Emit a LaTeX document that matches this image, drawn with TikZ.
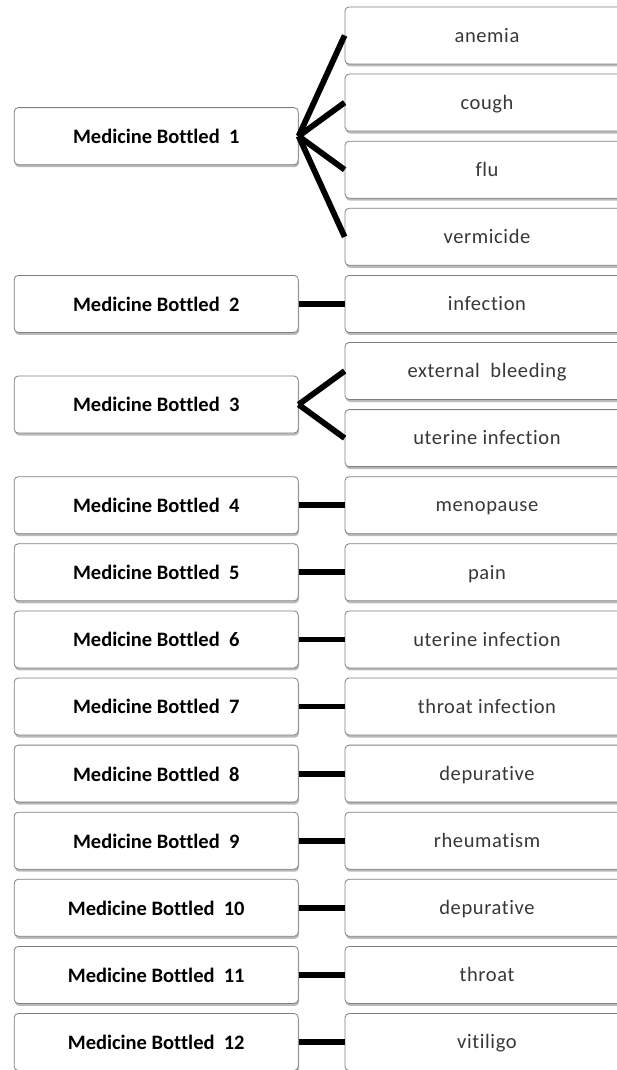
\documentclass[tikz,border=0pt]{standalone}
\usepackage{fontspec}
\setmainfont[Ligatures={NoCommon,NoContextual}]{Carlito}
\newfontfamily\symptomfont[LetterSpace=3, Ligatures={NoCommon,NoContextual}]{Carlito}
\usetikzlibrary{calc, positioning, shadows}

\begin{document}
\begin{tikzpicture}[x=1pt, y=1pt,
    box/.style={draw=black!50, line width=0.8pt, rounded corners=4pt, fill=white,
        minimum width=284pt, minimum height=57pt, inner sep=0pt,
        drop shadow={shadow xshift=0.8pt, shadow yshift=-2.5pt, fill=black!45, opacity=0.6}},
    med/.style={box, text height=18.8pt, text depth=4pt,
        font=\fontsize{20.5}{24}\selectfont\bfseries},
    use/.style={box, text=black!78, text height=17.4pt, text depth=4pt,
        font=\symptomfont\fontsize{20.5}{24}\selectfont},
    link/.style={draw, line width=5.8pt}]
        \clip (0,0) rectangle (617,-1070);

        % right column
        \node[use](r1) at (487,-35.5){anemia};
        \node[use](r2)[below = 9.3pt of r1]{cough};
        \node[use](r3)[below = 9.3pt of r2]{flu};
        \node[use](r4)[below = 9.3pt of r3]{vermicide};
        \node[use](r5)[below = 9.3pt of r4]{infection};
        \node[use](r6)[below = 9.3pt of r5]{external\ \ bleeding};
        \node[use](r7)[below = 9.3pt of r6]{uterine infection};
        \node[use](r8)[below = 9.3pt of r7]{menopause};
        \node[use](r9)[below = 9.3pt of r8]{pain};
        \node[use](r10)[below = 9.3pt of r9]{uterine infection};
        \node[use](r11)[below = 9.3pt of r10]{throat infection};
        \node[use](r12)[below = 9.3pt of r11]{depurative};
        \node[use](r13)[below = 9.3pt of r12]{rheumatism};
        \node[use](r14)[below = 9.3pt of r13]{depurative};
        \node[use](r15)[below = 9.3pt of r14]{throat};
        \node[use](r16)[below = 9.3pt of r15]{vitiligo};

        % left column
        \coordinate (mid1) at ($(r2.west)!0.5!(r3.west)$);
        \coordinate (mid3) at ($(r6.west)!0.5!(r7.west)$);
        \node[med](b1)[left = 46pt of mid1]{Medicine Bottled\ \ 1};
        \node[med](b2)[left = 46pt of r5]{Medicine Bottled\ \ 2};
        \node[med](b3)[left = 46pt of mid3]{Medicine Bottled\ \ 3};
        \node[med](b4)[left = 46pt of r8]{Medicine Bottled\ \ 4};
        \node[med](b5)[left = 46pt of r9]{Medicine Bottled\ \ 5};
        \node[med](b6)[left = 46pt of r10]{Medicine Bottled\ \ 6};
        \node[med](b7)[left = 46pt of r11]{Medicine Bottled\ \ 7};
        \node[med](b8)[left = 46pt of r12]{Medicine Bottled\ \ 8};
        \node[med](b9)[left = 46pt of r13]{Medicine Bottled\ \ 9};
        \node[med](b10)[left = 46pt of r14]{Medicine Bottled\ \ 10};
        \node[med](b11)[left = 46pt of r15]{Medicine Bottled\ \ 11};
        \node[med](b12)[left = 46pt of r16]{Medicine Bottled\ \ 12};

        \path[link]
        (b1.east) edge (r1.west)
        (b1.east) edge (r2.west)
        (b1.east) edge (r3.west)
        (b1.east) edge (r4.west)
        (b2.east) edge (r5.west)
        (b3.east) edge (r6.west)
        (b3.east) edge (r7.west)
        (b4.east) edge (r8.west)
        (b5.east) edge (r9.west)
        (b6.east) edge (r10.west)
        (b7.east) edge (r11.west)
        (b8.east) edge (r12.west)
        (b9.east) edge (r13.west)
        (b10.east) edge (r14.west)
        (b11.east) edge (r15.west)
        (b12.east) edge (r16.west);
\end{tikzpicture}
\end{document}
